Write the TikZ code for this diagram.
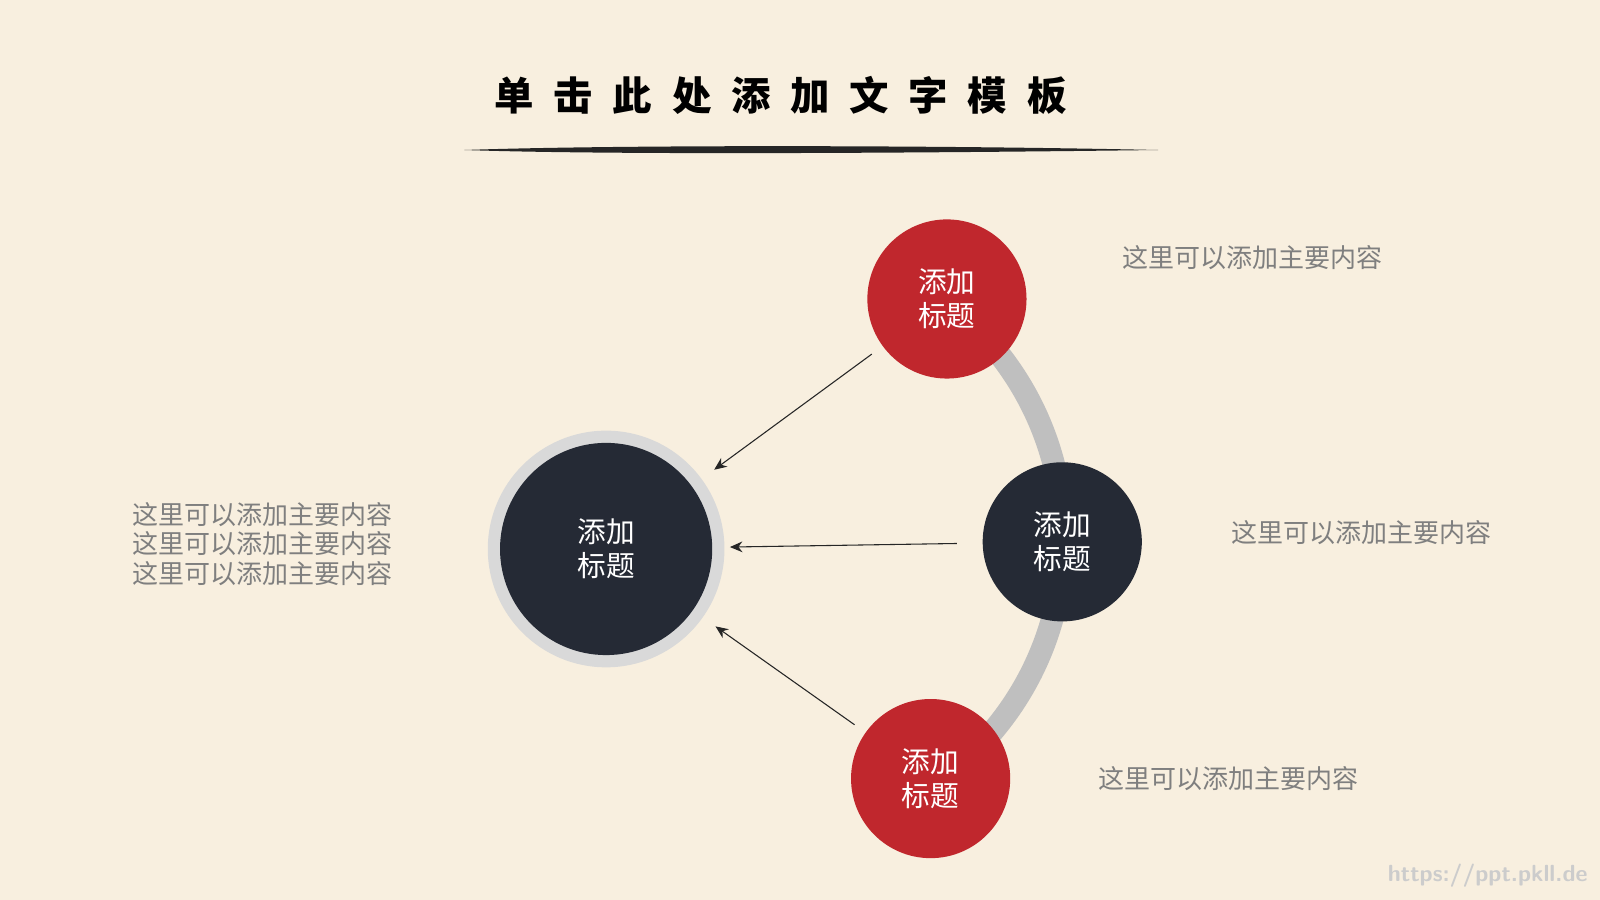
\documentclass[tikz,border=0pt]{standalone}
\usepackage{fontspec}
\newfontfamily\cjk{Noto Sans CJK SC}
\usetikzlibrary{calc,arrows.meta}
\definecolor{paper}{HTML}{F8EFDF}
\definecolor{redc}{HTML}{C0272D}
\definecolor{darkc}{HTML}{252A35}
\definecolor{txtc}{HTML}{7F7F7F}
\tikzset{
  px/.style={x=0.02cm,y=-0.02cm},
  redball/.style={circle, fill=redc, minimum size=3.12cm, inner sep=0pt, text=white, align=center, font=\cjk\fontsize{16}{19}\selectfont},
  darkball/.style={circle, fill=darkc, minimum size=3.12cm, inner sep=0pt, text=white, align=center, font=\cjk\fontsize{16}{19}\selectfont},
  note/.style={text=txtc, align=left, font=\cjk\fontsize{14.5}{17.5}\selectfont},
  arr/.style={-{Stealth[length=7pt,width=6pt]}, semithick, black!85, shorten <=0.26cm, shorten >=0.3cm}
}
\begin{document}
\begin{tikzpicture}[px]
  \fill[paper] (0,0) rectangle (1568,882);
  \useasboundingbox (0,0) rectangle (1568,882);
  % title and brush stroke
  \node (title) at (765,93) {\cjk\bfseries\fontsize{22}{26}\selectfont 单\enspace 击\enspace 此\enspace 处\enspace 添\enspace 加\enspace 文\enspace 字\enspace 模\enspace 板};
  \fill[black!85] (455,147) .. controls (600,142) and (900,142) .. (1135,147)
    .. controls (900,150) and (600,152) .. (455,147);
  % gray arc
  \draw[line width=0.44cm, black!25] (750,528) ++(-55:292) arc (-55:55:292);
  % balls
  \node[circle, fill=black!15, minimum size=4.64cm, inner sep=0pt] (ring) at (594,538) {};
  \node[circle, fill=darkc, minimum size=4.16cm, inner sep=0pt, text=white, align=center,
        font=\cjk\fontsize{16}{19}\selectfont] (main) at (594,538) {添加\\标题};
  \node[redball] (top) at (928,293) {添加\\标题};
  \node[darkball] (mid) at (1041,531) {添加\\标题};
  \node[redball] (bot) at (912,763) {添加\\标题};
  % arrows
  \draw[arr] (top) -- (ring);
  \draw[arr, shorten <=0.5cm, shorten >=0.1cm] (mid) -- (ring);
  \draw[arr] (bot) -- (ring);
  % notes
  \node[note] (n1) at (1227,252) {这里可以添加主要内容};
  \node[note] (n2) at (1334,522) {这里可以添加主要内容};
  \node[note] (n3) at (1204,763) {这里可以添加主要内容};
  \node[note, align=left] (n0) at (257,533) {这里可以添加主要内容\\[-1pt]这里可以添加主要内容\\[-1pt]这里可以添加主要内容};
  \node[text=black!20, font=\sffamily\bfseries\fontsize{13}{15}\selectfont, anchor=east] (wm) at (1562,858) {https://ppt.pkll.de};
\end{tikzpicture}
\end{document}
